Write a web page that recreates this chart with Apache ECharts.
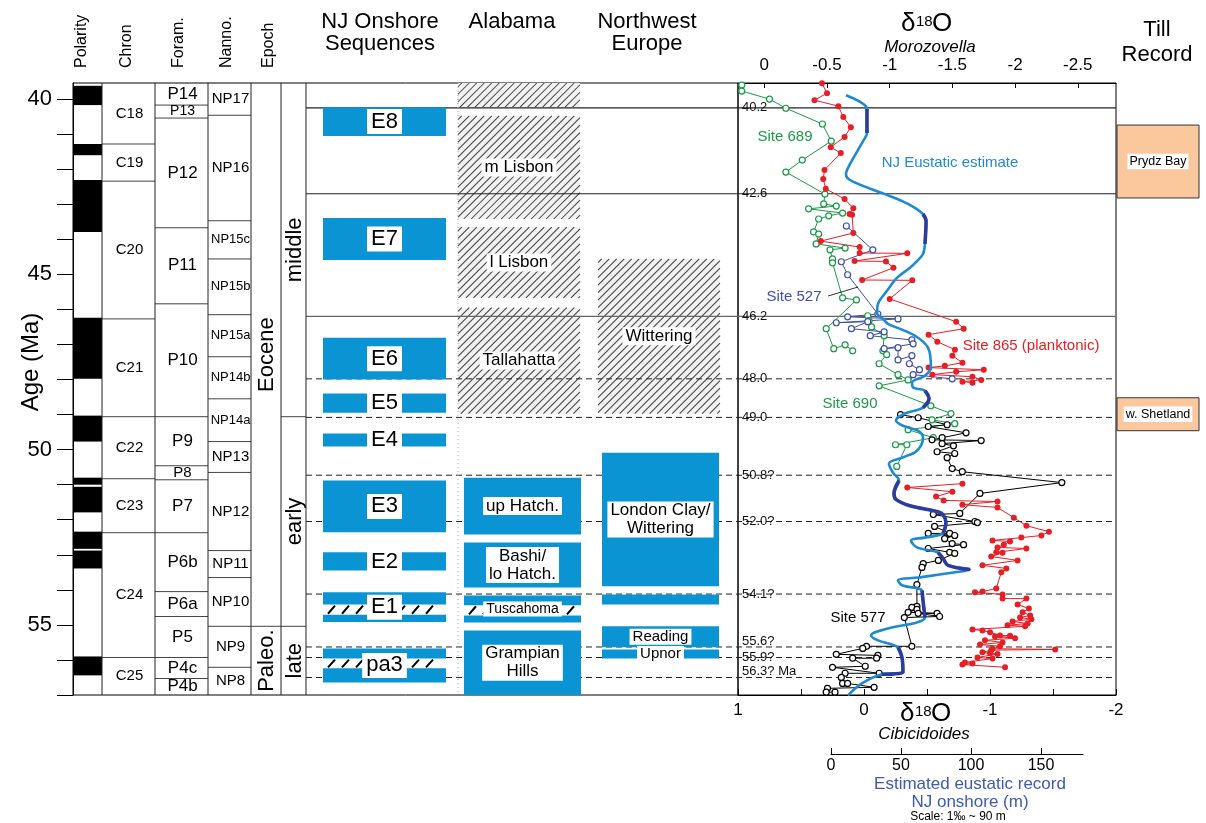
<!DOCTYPE html>
<html>
<head>
<meta charset="utf-8">
<title>Eocene sequences vs d18O</title>
<script src="https://cdn.jsdelivr.net/npm/echarts@6/dist/echarts.min.js"></script>
<style>
  html, body { margin: 0; padding: 0; background: #fff; }
  #chart { width: 1206px; height: 823px; }
</style>
</head>
<body>
<div id="chart"></div>
<script>
// ---------------- data ----------------
const ageTicks = [40, 41, 42, 43, 44, 45, 46, 47, 48, 49, 50, 51, 52, 53, 54, 55, 56, 57];
const ageLabels = [40, 45, 50, 55];

// normal polarity intervals (black), Ma
const polarityNormal = [[39.62, 40.17], [41.28, 41.60], [42.31, 43.79], [46.24, 47.98], [49.03, 49.77],
  [50.80, 51.00], [51.06, 51.79], [52.34, 52.83], [52.88, 53.39], [55.90, 56.44]];

const chronNames = ['C18', 'C19', 'C20', 'C21', 'C22', 'C23', 'C24', 'C25'];
const chronBounds = [39.54, 41.28, 42.34, 46.27, 49.06, 50.83, 52.37, 55.93, 57.0];

const foramNames = ['P14', 'P13', 'P12', 'P11', 'P10', 'P9', 'P8', 'P7', 'P6b', 'P6a', 'P5', 'P4c', 'P4b'];
const foramBounds = [39.54, 40.17, 40.54, 43.67, 45.84, 49.06, 50.46, 50.86, 52.37, 54.05, 54.76, 55.93, 56.53, 57.0];

const nannoNames = ['NP17', 'NP16', 'NP15c', 'NP15b', 'NP15a', 'NP14b', 'NP14a', 'NP13', 'NP12', 'NP11', 'NP10', 'NP9', 'NP8'];
const nannoBounds = [39.54, 40.46, 43.47, 44.56, 46.15, 47.35, 48.55, 49.77, 50.65, 52.88, 53.65, 55.04, 56.21, 57.0];

const epochNames = ['Eocene', 'Paleo.'];
const epochBounds = [39.54, 55.04, 57.0];
const subEpochNames = ['middle', 'early', 'late'];
const subEpochBounds = [39.54, 49.06, 55.04, 57.0];

// NJ onshore sequences [top, base, name]
const njSequences = [[40.23, 41.05, 'E8'], [43.39, 44.59, 'E7'], [46.81, 48.00, 'E6'], [48.40, 48.95, 'E5'],
  [49.54, 49.91, 'E4'], [50.88, 52.36, 'E3'], [52.93, 53.45, 'E2'], [54.07, 54.92, 'E1'], [55.67, 56.64, 'pa3']];
const njHiatus = [[54.42, 54.71], [55.96, 56.24]];

const alabamaHatched = [[39.54, 40.23, ''], [40.48, 43.42, 'm Lisbon'], [43.65, 45.67, 'l Lisbon'], [45.95, 48.97, 'Tallahatta']];
const alabamaUnits = [[50.80, 52.42, 'up Hatch.'], [52.65, 53.93, 'Bashi/\nlo Hatch.'], [54.16, 54.93, 'Tuscahoma'], [55.16, 57.0, 'Grampian\nHills']];
const alabamaHiatus = [[54.44, 54.73]];
const nwEuropeHatched = [[44.56, 48.97, 'Wittering']];
const nwEuropeUnits = [[50.09, 53.90, 'London Clay/\nWittering'], [54.13, 54.42, ''], [55.04, 55.64, 'Reading'], [55.70, 55.96, 'Upnor']];

const tillRecord = [[40.74, 42.82, 'Prydz Bay'], [48.52, 49.46, 'w. Shetland']];

// sequence boundaries
const boundaryAges = [40.25, 42.7, 46.2, 47.98, 49.08, 50.73, 52.05, 54.12, 55.63, 55.93, 56.5];
const boundaryLabels = ['40.2', '42.6', '46.2', '48.0', '49.0', '50.8?', '52.0?', '54.1?', '55.6?', '55.9?', '56.3? Ma'];
const boundaryDashed = [false, false, false, true, true, true, true, true, true, true, true];

// d18O, Morozovella (planktonic) [permil, Ma]
const site865 = [[-0.46, 39.55], [-0.50, 39.83], [-0.40, 40.03], [-0.59, 40.20], [-0.63, 40.51], [-0.69, 40.80],
  [-0.64, 41.08], [-0.53, 41.37], [-0.61, 41.54], [-0.48, 42.02], [-0.47, 42.28], [-0.49, 42.56], [-0.64, 42.85],
  [-0.71, 43.11], [-0.68, 43.28], [-0.70, 43.30], [-0.71, 43.82], [-0.45, 44.05], [-0.76, 44.22], [-0.76, 44.39],
  [-1.14, 44.40], [-0.72, 44.62], [-0.97, 44.63], [-1.03, 44.81], [-0.78, 45.16], [-1.18, 45.17], [-1.00, 45.70],
  [-1.53, 46.35], [-1.59, 46.55], [-1.31, 46.72], [-1.38, 46.92], [-1.52, 47.15], [-1.50, 47.32], [-1.58, 47.52],
  [-1.44, 47.61], [-1.31, 47.66], [-1.75, 47.72], [-1.53, 47.78], [-1.34, 47.86], [-1.66, 47.92], [-1.73, 48.01],
  [-1.58, 48.06], [-1.66, 48.09],
  ['-', '-'],
  [-1.58, 50.97], [-1.14, 51.08], [-1.50, 51.20], [-1.37, 51.34], [-1.43, 51.45], [-1.86, 51.48], [-1.58, 51.57],
  [-1.86, 51.65], [-1.99, 51.94], [-2.09, 52.17], [-2.27, 52.34], [-2.21, 52.45], [-2.05, 52.51], [-1.82, 52.59],
  [-1.96, 52.62], [-1.91, 52.71], [-1.86, 52.79], [-2.09, 52.82], [-1.85, 52.93], [-1.90, 52.94], [-1.81, 53.05],
  [-2.02, 53.16], [-1.74, 53.30], [-1.93, 53.39], [-1.89, 53.50], [-1.85, 53.96], [-1.74, 54.05], [-1.68, 54.07],
  [-1.90, 54.13], [-1.90, 54.25], [-2.09, 54.25], [-2.02, 54.42], [-2.11, 54.53], [-2.06, 54.64], [-2.12, 54.73],
  [-2.04, 54.79], [-2.13, 54.84], [-1.98, 54.90], [-2.10, 54.96], [-1.94, 55.01], [-2.08, 55.04], [-1.66, 55.13],
  [-1.74, 55.16], [-1.80, 55.21], [-1.88, 55.30], [-1.96, 55.31], [-1.84, 55.33], [-2.00, 55.38], [-1.76, 55.44],
  [-1.90, 55.50], [-1.72, 55.56], [-1.88, 55.61], [-1.82, 55.68], [-2.32, 55.70], [-1.81, 55.72], [-1.74, 55.78],
  [-1.80, 55.81], [-1.86, 55.83], [-1.70, 55.93], [-1.82, 55.96], [-1.60, 56.07], [-1.66, 56.10], [-1.58, 56.13],
  [-1.92, 56.21]];

// d18O, Cibicidoides (benthic) [permil, Ma]
const site689 = [[0.97, 39.60], [0.97, 39.77], [0.75, 40.00], [0.62, 40.26], [0.33, 40.71], [0.26, 41.20],
  [0.49, 41.74], [0.62, 42.08], [0.31, 42.71], [0.32, 42.99], [0.22, 43.05], [0.44, 43.13], [0.17, 43.25],
  [0.28, 43.33], [0.36, 43.42], [0.40, 43.79], [0.36, 43.85], [0.38, 44.13], [0.15, 44.25], [0.27, 44.30],
  [0.25, 44.56], [0.25, 44.67], [0.17, 45.67], [0.06, 45.73], [0.30, 46.55], [0.24, 47.12], [0.15, 47.01], [0.09, 47.18]];
const site690 = [[-0.03, 46.18], [-0.04, 46.32], [-0.06, 46.50], [-0.16, 46.75], [-0.15, 47.18], [-0.18, 47.29],
  [-0.12, 47.55], [-0.27, 47.86], [-0.35, 48.01], [-0.12, 48.18], [-0.53, 48.75], [-0.69, 48.97], [-0.54, 49.15],
  [-0.72, 49.26], [-0.35, 49.43], [-0.55, 49.66], [-0.25, 49.86], [-0.34, 49.86], [-0.26, 50.48]];
const site527 = [[0.14, 43.62], [-0.07, 44.30], [0.18, 44.64], [0.13, 45.01], [-0.11, 46.13], [0.13, 46.21],
  [-0.27, 46.27], [0.22, 46.38], [-0.03, 46.35], [0.10, 46.55], [-0.16, 46.64], [-0.05, 46.75], [-0.38, 46.87],
  [-0.39, 46.98], [-0.16, 47.12], [-0.27, 47.09], [-0.27, 47.44], [-0.38, 47.32], [-0.36, 47.55], [-0.44, 47.72],
  [-0.39, 47.86], [-0.70, 47.98]];
const site577 = [[-0.29, 49.00], [-0.43, 49.09], [-0.66, 49.29], [-0.51, 49.34], [-0.81, 49.52], [-0.62, 49.66],
  [-0.54, 49.72], [-0.93, 49.74], [-0.62, 49.83], [-0.71, 49.89], [-0.58, 50.06], [-0.72, 50.11], [-0.66, 50.23],
  [-0.70, 50.54], [-0.78, 50.63], [-1.57, 50.94], [-0.92, 51.25], [-0.76, 51.82], [-0.55, 51.85], [-0.88, 52.05],
  [-0.90, 52.08], [-0.56, 52.19], [-0.68, 52.39], [-0.51, 52.39], [-0.72, 52.45], [-0.64, 52.54], [-0.70, 52.68],
  [-0.79, 52.71], [-0.51, 52.82], [-0.68, 52.93], [-0.72, 52.96], [-0.59, 53.16], [-0.47, 53.25], [-0.46, 53.36],
  [-0.42, 53.85], [-0.42, 54.47], [-0.38, 54.50], [-0.42, 54.56], [-0.35, 54.64], [-0.58, 54.67], [-0.43, 54.67],
  [-0.60, 54.76], [-0.32, 54.79], [-0.38, 55.61], [-0.02, 55.61], [0.01, 55.67], [0.22, 55.84], [-0.11, 55.87],
  [-0.10, 55.95], [0.09, 55.95], [-0.01, 56.18], [0.25, 56.21], [-0.12, 56.38], [0.15, 56.38], [0.18, 56.50],
  [0.17, 56.67], [0.13, 56.67], [-0.08, 56.78], [0.29, 56.81], [0.30, 56.92], [0.23, 56.92]];

// NJ eustatic estimate (m) vs age
const eustaticAge = [39.89, 40.11, 40.28, 40.97, 41.20, 41.85, 42.14, 42.34, 42.71, 42.99, 43.28, 43.48, 44.13,
  44.42, 44.62, 44.81, 45.10, 45.47, 45.84, 46.10, 46.27, 46.41, 46.52, 46.75, 47.09, 47.66, 47.89, 48.09, 48.23,
  48.32, 48.55, 48.80, 48.97, 49.17, 49.32, 49.46, 49.66, 50.03, 50.23, 50.40, 50.66, 50.88, 51.25, 51.42, 51.60,
  51.77, 51.85, 52.08, 52.39, 52.51, 52.59, 52.79, 52.93, 53.10, 53.30, 53.42, 53.50, 53.65, 53.73, 53.87, 54.02,
  54.30, 54.79, 54.93, 55.10, 55.30, 55.44, 55.64, 55.93, 56.35, 56.41, 56.67, 57.01];
const eustaticM = [10.7, 22.1, 25.7, 25.7, 22.9, 13.6, 10.7, 15.0, 38.6, 55.0, 65.7, 67.9, 67.1,
  65.7, 61.4, 56.4, 47.1, 40.0, 33.6, 32.9, 37.1, 40.7, 47.1, 60.0, 69.3, 71.4, 67.1, 57.9, 58.6,
  67.1, 70.0, 65.7, 52.9, 46.4, 51.4, 62.1, 65.7, 61.4, 50.7, 41.4, 44.3, 48.6, 45.0, 46.4, 56.4,
  76.4, 80.0, 82.1, 80.0, 67.1, 57.1, 61.4, 76.4, 80.0, 83.6, 99.3, 88.6, 62.1, 47.9, 50.7, 65.0,
  65.7, 67.1, 61.4, 40.7, 28.6, 33.6, 47.9, 50.7, 51.4, 36.4, 22.1, 12.1];
// well-constrained parts of the curve (drawn dark)
const eustaticDark = [[40.25, 41.0], [43.28, 44.35], [48.3, 48.85], [50.85, 52.45], [52.9, 53.45], [53.95, 54.85], [55.6, 56.45]];

const topTicks = [0, -0.5, -1, -1.5, -2, -2.5];

// ---------------- layout / style ----------------
const FONT = '"Liberation Sans", Arial, Helvetica, sans-serif';
const AGE_MIN = 39.54, AGE_MAX = 57.0;
const BLUE = '#0a94d4';
const RED = '#e61f27', GREEN = '#1b9a48', PURPLE = '#3f4ea6', LIGHTBLUE = '#1e8ad2', DARKBLUE = '#2c3c9c';
const COL = {
  polarity: [73, 102], chron: [102, 155], foram: [155, 208], nanno: [208, 251], epoch: [251, 281], subEpoch: [281, 306],
  nj: [323, 446], alaHatch: [458, 580], alaBlue: [464, 581], nweHatch: [598, 720], nweBlue: [602, 719], till: [1117, 1199]
};
const SEPARATORS = [102, 155, 208, 251, 281, 306];
const BOUNDARY_X = [306, 1116];
const BOUNDARY_LABEL_DY = [0, 0, 0, 0, 0, 0, 0, 0, -6, 0, -6];

const ageY = (api, age) => api.coord([0, age])[1];
const font = (size, italic) => (italic ? 'italic ' : '') + size + 'px ' + FONT;

function hatchLines(l, t, r, b, step, stroke, lw) {
  const out = [];
  for (let c = l + t + step * 0.5; c < r + b; c += step) {
    const xa = Math.max(l, c - b), xb = Math.min(r, c - t);
    if (xb - xa > 0.5) out.push({ type: 'line', shape: { x1: xa, y1: c - xa, x2: xb, y2: c - xb }, style: { stroke, lineWidth: lw } });
  }
  return out;
}
function slashes(l, t, r, b) {
  const out = [];
  for (let x = l + 5; x + 7 <= r; x += 14) {
    out.push({ type: 'line', shape: { x1: x, y1: b - 1, x2: x + 7, y2: t + 1 }, style: { stroke: '#000', lineWidth: 2 } });
  }
  return out;
}
function label(text, x, y, size, bg, pad) {
  const st = { text, x: 0, y: 0, align: 'center', verticalAlign: 'middle', textAlign: 'center', textVerticalAlign: 'middle',
    font: font(size), fill: '#000', lineHeight: size + 1 };
  if (bg) { st.backgroundColor = '#fff'; st.padding = pad; }
  return { type: 'text', x, y, style: st };
}

function zoneSeries(bounds, names, col, sizeFn, rotate) {
  const rows = names.map((n, i) => [bounds[i], bounds[i + 1], n]);
  return {
    type: 'custom', xAxisIndex: 0, yAxisIndex: 0, z: 4, silent: true, data: rows,
    renderItem(params, api) {
      const row = rows[params.dataIndex];
      const yt = ageY(api, row[0]), yb = ageY(api, row[1]);
      const ch = [];
      if (params.dataIndex > 0) {
        ch.push({ type: 'line', shape: { x1: col[0], y1: yt, x2: col[1], y2: yt }, style: { stroke: '#444', lineWidth: 1 } });
      }
      const t = label(row[2], (col[0] + col[1]) / 2 + 1, (yt + yb) / 2, sizeFn(row[2], yb - yt));
      if (rotate) t.rotation = Math.PI / 2;
      ch.push(t);
      return { type: 'group', children: ch };
    }
  };
}

function boxSeries(rows, col, kind, size, pad, z, hiatus) {
  return {
    type: 'custom', xAxisIndex: 0, yAxisIndex: 0, z, silent: true, data: rows,
    renderItem(params, api) {
      const row = rows[params.dataIndex];
      const yt = ageY(api, row[0]), yb = ageY(api, row[1]);
      const l = col[0], r = col[1];
      let ch = [];
      if (kind === 'hatch') {
        ch.push({ type: 'rect', shape: { x: l, y: yt, width: r - l, height: yb - yt }, style: { fill: '#f2f2f2' } });
        ch = ch.concat(hatchLines(l, yt, r, yb, 7.5, '#444', 1.05));
      } else if (kind === 'till') {
        ch.push({ type: 'rect', shape: { x: l, y: yt, width: r - l, height: yb - yt }, style: { fill: '#fac89c', stroke: '#333', lineWidth: 1 } });
      } else {
        ch.push({ type: 'rect', shape: { x: l, y: yt, width: r - l, height: yb - yt }, style: { fill: BLUE } });
        (hiatus || []).forEach(h => {
          if (h[0] > row[0] && h[1] < row[1]) {
            const ht = ageY(api, h[0]), hb = ageY(api, h[1]);
            ch.push({ type: 'rect', shape: { x: l, y: ht, width: r - l, height: hb - ht }, style: { fill: '#fff' } });
            ch = ch.concat(slashes(l, ht, r, hb));
          }
        });
      }
      if (row[2]) ch.push(label(row[2], (l + r) / 2, (yt + yb) / 2, typeof size === 'function' ? size(row[2]) : size, true, pad));
      return { type: 'group', children: ch };
    }
  };
}

function siteSeries(name, data, axis, color, filled) {
  return {
    type: 'line', name, xAxisIndex: axis, yAxisIndex: 1, data, z: 5,
    symbol: 'circle', symbolSize: 6, showAllSymbol: true, connectNulls: false,
    lineStyle: { color, width: 1 },
    itemStyle: filled ? { color } : { color: '#fff', borderColor: color, borderWidth: 1.2 },
    emphasis: { disabled: true }
  };
}

function txt(text, x, y, size, opt) {
  opt = opt || {};
  const a = opt.align || 'center';
  return {
    type: 'text', x, y, rotation: opt.rot || 0, silent: true, z: 30,
    style: { text, font: font(size, opt.italic), fill: opt.color || '#000',
      align: a, textAlign: a, verticalAlign: 'middle', textVerticalAlign: 'middle' }
  };
}
function vline(x, y1, y2, stroke, dash) {
  return { type: 'line', silent: true, z: 25, shape: { x1: x, y1, x2: x, y2 }, style: { stroke, lineWidth: 1, lineDash: dash || null } };
}

const eustatic = eustaticAge.map((a, i) => [eustaticM[i], a]);
const eustaticDarkData = eustatic.map(p => eustaticDark.some(r => p[1] >= r[0] && p[1] <= r[1]) ? p : ['-', '-']);

const hiddenY = gi => ({ gridIndex: gi, type: 'value', min: AGE_MIN, max: AGE_MAX, inverse: true, show: false });

const graphic = [
  // column headers
  txt('Polarity', 82, 68, 16, { rot: Math.PI / 2, align: 'left' }),
  txt('Chron', 127, 68, 16, { rot: Math.PI / 2, align: 'left' }),
  txt('Foram.', 179, 68, 16, { rot: Math.PI / 2, align: 'left' }),
  txt('Nanno.', 227, 68, 16, { rot: Math.PI / 2, align: 'left' }),
  txt('Epoch', 269, 68, 16, { rot: Math.PI / 2, align: 'left' }),
  txt('Age (Ma)', 31, 362, 24, { rot: Math.PI / 2 }),
  txt('NJ Onshore', 380, 22, 22), txt('Sequences', 380, 44, 22),
  txt('Alabama', 512, 22, 22),
  txt('Northwest', 647, 22, 22), txt('Europe', 647, 44, 22),
  txt('Till', 1157, 30, 22), txt('Record', 1157, 55, 22),
  // d18O titles
  txt('\u03b4', 901, 24, 26, { align: 'left' }), txt('18', 916, 22, 15, { align: 'left' }), txt('O', 932, 24, 26, { align: 'left' }),
  txt('Morozovella', 930, 47, 17, { italic: true }),
  txt('\u03b4', 900, 714, 26, { align: 'left' }), txt('18', 915, 712, 15, { align: 'left' }), txt('O', 931, 714, 26, { align: 'left' }),
  txt('Cibicidoides', 924, 734, 17, { italic: true }),
  txt('Estimated eustatic record', 970, 784, 17, { color: '#3e5bb1' }),
  txt('NJ onshore (m)', 970, 802, 17, { color: '#3e5bb1' }),
  txt('Scale: 1\u2030 ~ 90 m', 958, 817, 12),
  // series labels
  txt('Site 689', 785, 137, 15, { color: GREEN }),
  txt('NJ Eustatic estimate', 950, 163, 15, { color: LIGHTBLUE }),
  txt('Site 527', 794, 297, 15, { color: PURPLE }),
  txt('Site 865 (planktonic)', 1031, 346, 15, { color: RED }),
  txt('Site 690', 850, 404, 15, { color: GREEN }),
  txt('Site 577', 858, 618, 15),
  { type: 'line', silent: true, z: 30, shape: { x1: 828, y1: 296, x2: 858, y2: 287 }, style: { stroke: '#000', lineWidth: 0.8 } },
  // column separators
  ...SEPARATORS.map(x => vline(x, 83, 695, '#222')),
  vline(458, 83, 695, '#aaa', [1, 3])
];

const series = [
  {
    type: 'custom', xAxisIndex: 0, yAxisIndex: 0, z: 3, silent: true, data: polarityNormal,
    renderItem(params, api) {
      const r = polarityNormal[params.dataIndex];
      const yt = ageY(api, r[0]), yb = ageY(api, r[1]);
      return { type: 'rect', shape: { x: COL.polarity[0], y: yt, width: COL.polarity[1] - COL.polarity[0], height: yb - yt }, style: { fill: '#000' } };
    }
  },
  zoneSeries(chronBounds, chronNames, COL.chron, () => 15),
  zoneSeries(foramBounds, foramNames, COL.foram, (n, h) => Math.min(17, h + 1)),
  zoneSeries(nannoBounds, nannoNames, COL.nanno, n => (n.length >= 5 ? 13 : 15)),
  zoneSeries(epochBounds, epochNames, COL.epoch, () => 22, true),
  zoneSeries(subEpochBounds, subEpochNames, COL.subEpoch, () => 22, true),
  boxSeries(alabamaHatched, COL.alaHatch, 'hatch', 17, [0, 3], 1),
  boxSeries(nwEuropeHatched, COL.nweHatch, 'hatch', 17, [0, 3], 1),
  {
    type: 'custom', xAxisIndex: 0, yAxisIndex: 0, z: 2, silent: true, data: boundaryAges.map(a => [0, a]),
    renderItem(params, api) {
      const i = params.dataIndex;
      const y = ageY(api, boundaryAges[i]);
      const dashed = boundaryDashed[i];
      return {
        type: 'group', children: [
          { type: 'line', shape: { x1: BOUNDARY_X[0], y1: y, x2: BOUNDARY_X[1], y2: y },
            style: { stroke: i === 2 ? '#666' : '#222', lineWidth: dashed ? 1 : 1.2, lineDash: dashed ? [6, 4] : null } },
          { type: 'text', x: 742, y: y + BOUNDARY_LABEL_DY[i],
            style: { text: boundaryLabels[i], font: font(13), fill: '#111', align: 'left', verticalAlign: 'middle' } }
        ]
      };
    }
  },
  boxSeries(njSequences, COL.nj, 'blue', 22, [1, 4], 6, njHiatus),
  boxSeries(alabamaUnits, COL.alaBlue, 'blue', n => (n === 'Tuscahoma' ? 14 : 17), [0, 3], 6, alabamaHiatus),
  boxSeries(nwEuropeUnits, COL.nweBlue, 'blue', n => (n.length < 8 ? 15 : 17), [0, 3], 6),
  boxSeries(tillRecord, COL.till, 'till', 12.5, [1, 2], 6),
  siteSeries('Site 689', site689, 2, GREEN, false),
  siteSeries('Site 690', site690, 2, GREEN, false),
  siteSeries('Site 527', site527, 2, PURPLE, false),
  siteSeries('Site 577', site577, 2, '#000', false),
  siteSeries('Site 865', site865, 1, RED, true),
  {
    type: 'line', name: 'NJ eustatic', xAxisIndex: 3, yAxisIndex: 2, data: eustatic, z: 8, clip: false,
    smooth: 0.35, showSymbol: false, lineStyle: { color: LIGHTBLUE, width: 2.6 }, emphasis: { disabled: true }
  },
  {
    type: 'line', name: 'NJ eustatic (well constrained)', xAxisIndex: 3, yAxisIndex: 2, data: eustaticDarkData, z: 9, clip: false,
    smooth: 0.35, showSymbol: false, connectNulls: false, lineStyle: { color: DARKBLUE, width: 3.6 }, emphasis: { disabled: true }
  }
];

const option = {
  animation: false,
  backgroundColor: '#fff',
  textStyle: { fontFamily: FONT },
  grid: [
    { left: 73, top: 83, width: 665, height: 612, show: true, borderColor: '#000', borderWidth: 1 },
    { left: 738, top: 83, width: 378, height: 612, show: true, borderColor: '#000', borderWidth: 1 },
    { left: 831, top: 83, width: 252, height: 612 }
  ],
  xAxis: [
    { gridIndex: 0, type: 'value', min: 0, max: 1, show: false },
    {
      gridIndex: 1, type: 'value', position: 'top', min: -2.805, max: 0.21, inverse: true,
      axisLine: { show: true, lineStyle: { color: '#000' } },
      axisTick: { show: true, inside: true, length: 5, customValues: topTicks, lineStyle: { color: '#000' } },
      axisLabel: { customValues: topTicks, fontSize: 17, color: '#000', margin: 9, fontFamily: FONT },
      splitLine: { show: false }
    },
    {
      gridIndex: 1, type: 'value', position: 'bottom', min: -2, max: 1, interval: 0.5, inverse: true,
      axisLine: { show: true, lineStyle: { color: '#000' } },
      axisTick: { show: true, inside: true, length: 6, lineStyle: { color: '#000' } },
      axisLabel: {
        fontSize: 17, color: '#000', margin: 7, fontFamily: FONT, showMinLabel: true, showMaxLabel: true,
        formatter: v => (Math.abs(v - Math.round(v)) < 1e-9 ? String(Math.round(v)) : '')
      },
      splitLine: { show: false }
    },
    {
      gridIndex: 2, type: 'value', position: 'bottom', offset: 59, min: 0, max: 180, interval: 50,
      axisLine: { show: true, lineStyle: { color: '#000' } },
      axisTick: { show: true, inside: true, length: 6, lineStyle: { color: '#000' } },
      axisLabel: { fontSize: 16, color: '#000', margin: 4, fontFamily: FONT, showMaxLabel: false },
      splitLine: { show: false }
    }
  ],
  yAxis: [
    {
      gridIndex: 0, type: 'value', min: AGE_MIN, max: AGE_MAX, inverse: true,
      axisLine: { show: true, lineStyle: { color: '#000' } },
      axisTick: { show: true, inside: false, length: 16, customValues: ageTicks, lineStyle: { color: '#000' } },
      axisLabel: { customValues: ageLabels, fontSize: 22, color: '#000', margin: 21, fontFamily: FONT },
      splitLine: { show: false }
    },
    hiddenY(1),
    hiddenY(2)
  ],
  graphic,
  series
};

const chart = echarts.init(document.getElementById('chart'), null, { renderer: 'canvas' });
chart.setOption(option);
window.addEventListener('resize', () => chart.resize());
</script>
</body>
</html>
